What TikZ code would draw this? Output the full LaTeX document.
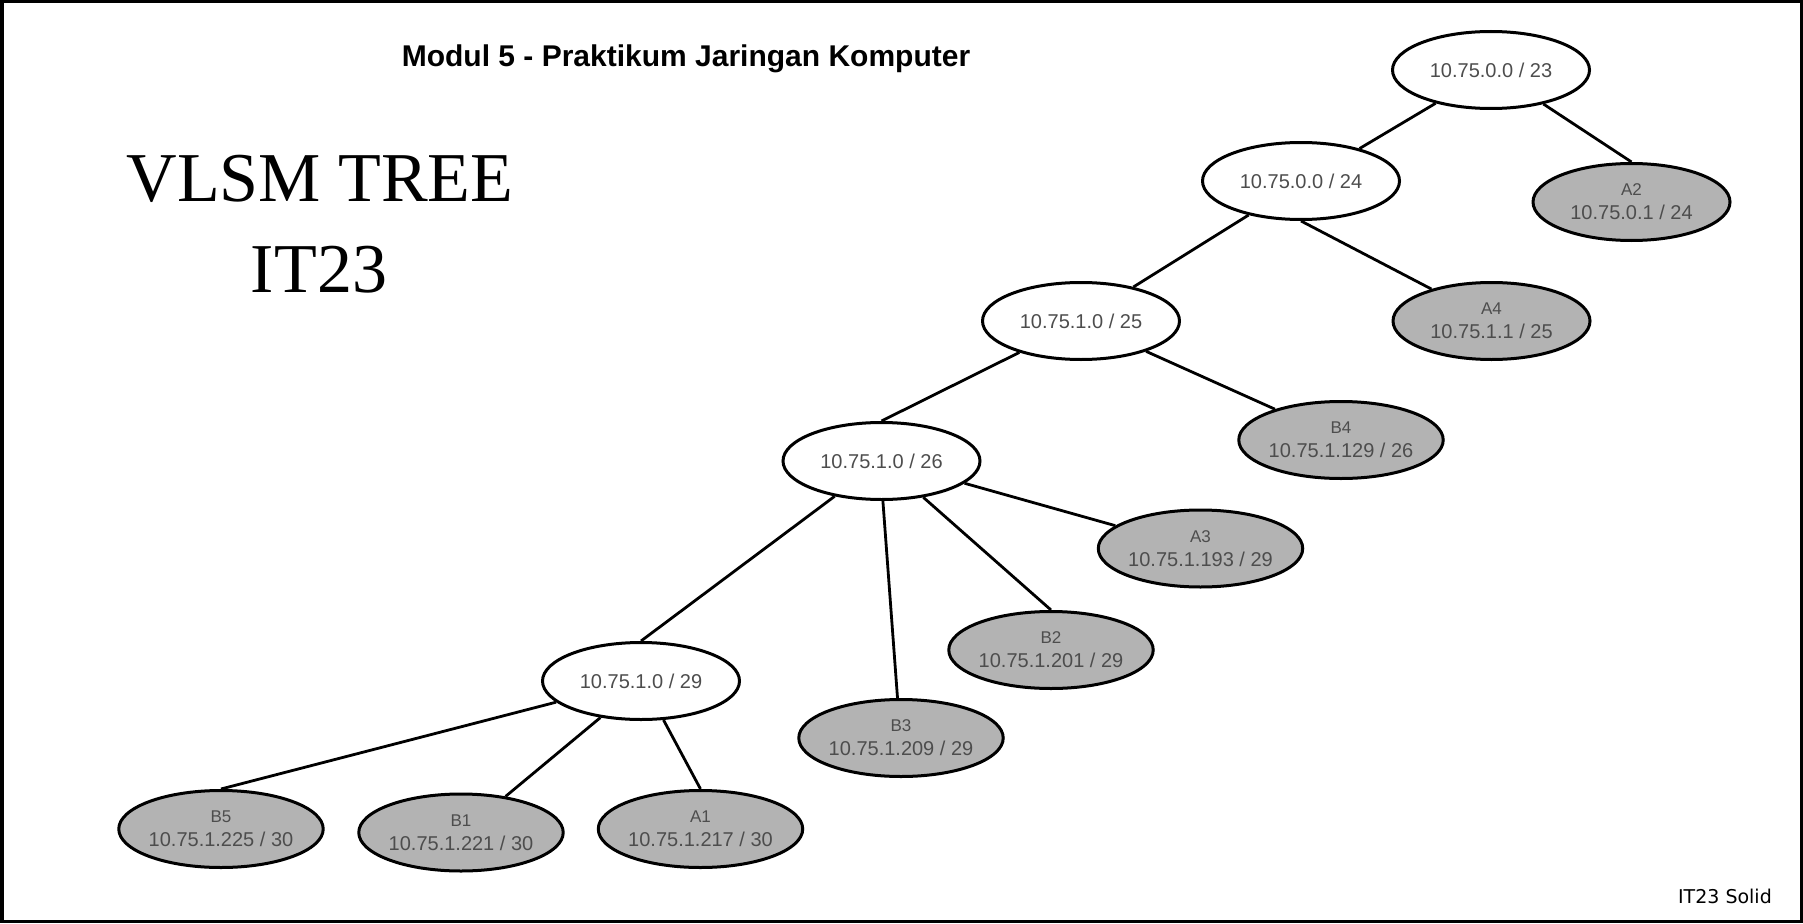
\documentclass[tikz,border=0pt]{standalone}
\usepackage{fontspec}
\setmainfont{Liberation Sans}
\newfontfamily\serifface{Liberation Serif}
\newfontfamily\handface{DejaVu Sans}
\usetikzlibrary{shapes.geometric}
\definecolor{fillgray}{HTML}{B3B3B3}
\definecolor{txtgray}{HTML}{4D4D4D}
\newcommand\lab[1]{{\fontsize{17}{24}\selectfont #1}}
\tikzset{
  net/.style={ellipse, draw=black, line width=3pt, minimum width=197pt, minimum height=77pt,
    inner sep=0pt, fill=white, text=txtgray, font=\fontsize{20}{24}\selectfont, align=center},
  leaf/.style={net, fill=fillgray},
  edge/.style={line width=2.8pt, draw=black},
}
\begin{document}
\begin{tikzpicture}[x=1pt,y=-1pt]
\useasboundingbox (0,0) rectangle (1803,923);
\draw[line width=3.5pt] (1.75,1.75) rectangle (1801.25,921.25);

\node[font=\bfseries\fontsize{30}{34}\selectfont, anchor=base] (title) at (686,67) {Modul 5 - Praktikum Jaringan Komputer};
\node[font=\serifface\fontsize{70}{84}\selectfont, anchor=base] (vl) at (320,201) {VLSM TREE};
\node[font=\serifface\fontsize{70}{84}\selectfont, anchor=base] (it) at (319,292) {IT23};
\node[font=\handface\fontsize{19}{22}\selectfont, anchor=base east, inner sep=0pt] (ft) at (1772,903) {IT23 Solid};

\node[net] (r) at (1491,70) {10.75.0.0 / 23};
\node[leaf] (a2) at (1631.5,202) {\lab{A2}\\10.75.0.1 / 24};
\node[net] (n24) at (1301,181) {10.75.0.0 / 24};
\node[leaf] (a4) at (1491.5,321) {\lab{A4}\\10.75.1.1 / 25};
\node[net] (n25) at (1081,321) {10.75.1.0 / 25};
\node[leaf] (b4) at (1341,440) {\lab{B4}\\10.75.1.129 / 26};
\node[net] (n26) at (881.5,461) {10.75.1.0 / 26};
\node[leaf] (a3) at (1200.5,548.5) {\lab{A3}\\10.75.1.193 / 29};
\node[leaf] (b2) at (1051,650) {\lab{B2}\\10.75.1.201 / 29};
\node[leaf] (b3) at (901,738) {\lab{B3}\\10.75.1.209 / 29};
\node[net] (n29) at (641,681) {10.75.1.0 / 29};
\node[leaf] (b5) at (221,829) {\lab{B5}\\10.75.1.225 / 30};
\node[leaf] (b1) at (461,832.5) {\lab{B1}\\10.75.1.221 / 30};
\node[leaf] (a1) at (700.5,829) {\lab{A1}\\10.75.1.217 / 30};

\draw[edge] (r.-149) -- (n24.29);
\draw[edge] (r.-33) -- (a2.north);
\draw[edge] (n24.-147) -- (n25.33);
\draw[edge] (n24.south) -- (a4.152);
\draw[edge] (n25.-153) -- (n26.north);
\draw[edge] (n25.-25) -- (b4.155);
\draw[edge] (n26.-143) -- (n29.north);
\draw[edge] (n26.-88) -- (b3.95);
\draw[edge] (n26.-41) -- (b2.north);
\draw[edge] (n26.-15) -- (a3.165);
\draw[edge] (n29.-166) -- (b5.north);
\draw[edge] (n29.-138) -- (b1.39);
\draw[edge] (n29.-60) -- (a1.north);
\end{tikzpicture}
\end{document}
